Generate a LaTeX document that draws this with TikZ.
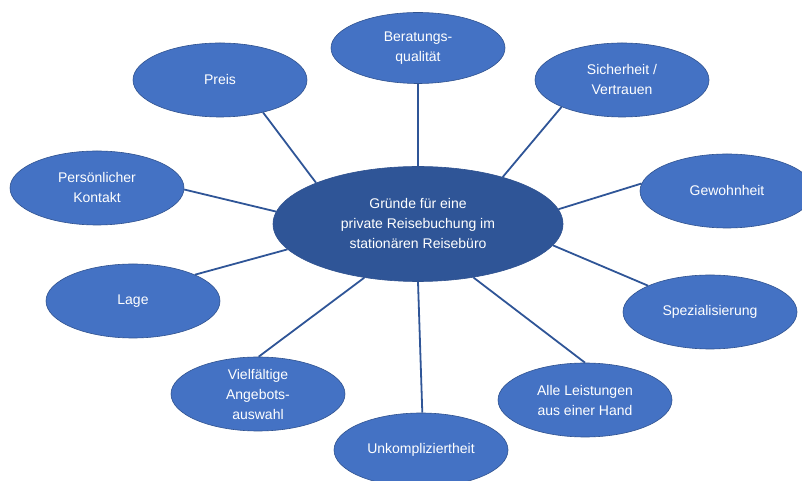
\documentclass[tikz,border=0pt]{standalone}
\usepackage{fontspec}
\setmainfont{Liberation Sans}
\usetikzlibrary{shapes.geometric}

\definecolor{outerblue}{HTML}{4472C4}
\definecolor{innerblue}{HTML}{2F5597}
\definecolor{rimblue}{HTML}{2F528F}

\gdef\outerw{174pt}
\gdef\outerh{74pt}

\begin{document}
\begin{tikzpicture}[x=1pt, y=1pt, semithick,
	reason/.style={draw=rimblue, line width=0.6pt, ellipse, fill=outerblue, text=white, align=center,
		inner sep=0pt, minimum width=\outerw, minimum height=\outerh, font=\fontsize{14}{20}\selectfont},
	topic/.style={reason, fill=innerblue, minimum width=290pt, minimum height=115pt},
	spoke/.style={draw=innerblue, line width=1.8pt}]

\useasboundingbox (0,0) rectangle (802,481);

\node[topic] (G) at (418,257) {Gründe für eine\\private Reisebuchung im\\stationären Reisebüro};

\node[reason] (preis) at (220,401) {Preis};
\node[reason, minimum height=71pt] (beratung) at (418,433) {Beratungs-\\qualität};
\node[reason] (sicherheit) at (622,401) {Sicherheit /\\Vertrauen};
\node[reason] (kontakt) at (97,293) {Persönlicher\\Kontakt};
\node[reason] (gewohnheit) at (727,290) {Gewohnheit};
\node[reason] (lage) at (133,180) {Lage};
\node[reason] (spezial) at (710,169) {Spezialisierung};
\node[reason] (auswahl) at (258,87) {Vielfältige\\Angebots-\\auswahl};
\node[reason] (leistung) at (585,81) {Alle Leistungen\\aus einer Hand};
\node[reason] (unkompl) at (421,31) {Unkompliziertheit};

\path[spoke] (G.158) edge (preis.-37)
	(G.90) edge (beratung.-90)
	(G.29) edge (sicherheit.-156)
	(G.175) edge (kontakt.-1)
	(G.6) edge (gewohnheit.175)
	(G.-169) edge (lage.23)
	(G.-9) edge (spezial.157)
	(G.-135) edge (auswahl.89)
	(G.-44) edge (leistung.90)
	(G.-90) edge (unkompl.88)
	;

\end{tikzpicture}
\end{document}
